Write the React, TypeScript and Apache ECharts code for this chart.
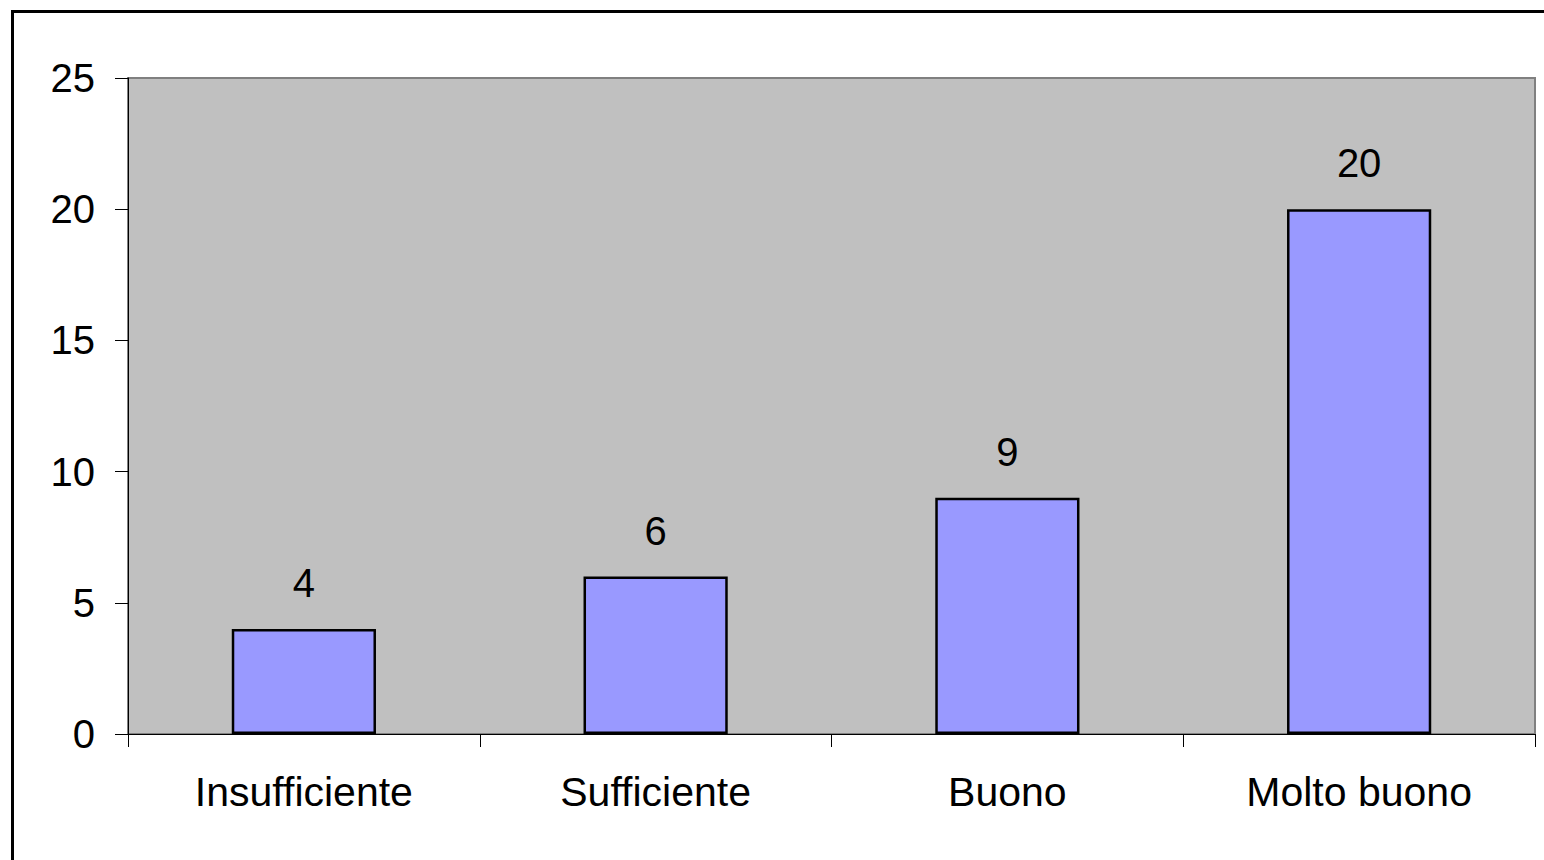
import React, { useEffect, useRef } from "react";
import * as echarts from "echarts";

// Rating categories and their counts
const categories = ["Insufficiente", "Sufficiente", "Buono", "Molto buono"];
const counts = [4, 6, 9, 20];

// Value axis range
const yMin = 0;
const yMax = 25;
const yStep = 5;

const FONT = "'Liberation Sans', Arial, sans-serif";

export default function App() {
  const ref = useRef<HTMLDivElement>(null);

  useEffect(() => {
    document.body.style.margin = "0";
    if (!ref.current) return;
    const chart = echarts.init(ref.current, null, { renderer: "svg" });
    chart.setOption({
      animation: false,
      backgroundColor: "#ffffff",
      textStyle: { fontFamily: FONT },
      graphic: [
        {
          type: "rect",
          shape: { x: 12.5, y: 11.5, width: 1600, height: 900 },
          style: { fill: "none", stroke: "#000000", lineWidth: 3 },
          silent: true,
          z: 100,
        },
      ],
      grid: {
        left: 128,
        top: 78,
        right: 9,
        bottom: 126,
        show: true,
        backgroundColor: "#C0C0C0",
        borderColor: "#808080",
        borderWidth: 2,
      },
      xAxis: {
        type: "category",
        data: categories,
        axisLine: { show: true, lineStyle: { color: "#000000", width: 1 } },
        axisTick: {
          show: true,
          alignWithLabel: false,
          length: 13,
          lineStyle: { color: "#000000", width: 1 },
        },
        axisLabel: {
          color: "#000000",
          fontSize: 41,
          fontFamily: FONT,
          margin: 37,
        },
        splitLine: { show: false },
      },
      yAxis: {
        type: "value",
        min: yMin,
        max: yMax,
        interval: yStep,
        axisLine: { show: true, lineStyle: { color: "#000000", width: 1 } },
        axisTick: {
          show: true,
          length: 13,
          lineStyle: { color: "#000000", width: 1 },
        },
        axisLabel: {
          color: "#000000",
          fontSize: 40,
          fontFamily: FONT,
          margin: 33,
        },
        splitLine: { show: false },
      },
      series: [
        {
          type: "bar",
          data: counts,
          barWidth: "41%",
          itemStyle: {
            color: "#9999FF",
            borderColor: "#000000",
            borderWidth: 2.5,
          },
          label: {
            show: true,
            position: "top",
            distance: 26,
            color: "#000000",
            fontSize: 40,
            fontFamily: FONT,
          },
        },
      ],
    });
    return () => chart.dispose();
  }, []);

  return <div ref={ref} style={{ width: 1544, height: 860 }} />;
}
